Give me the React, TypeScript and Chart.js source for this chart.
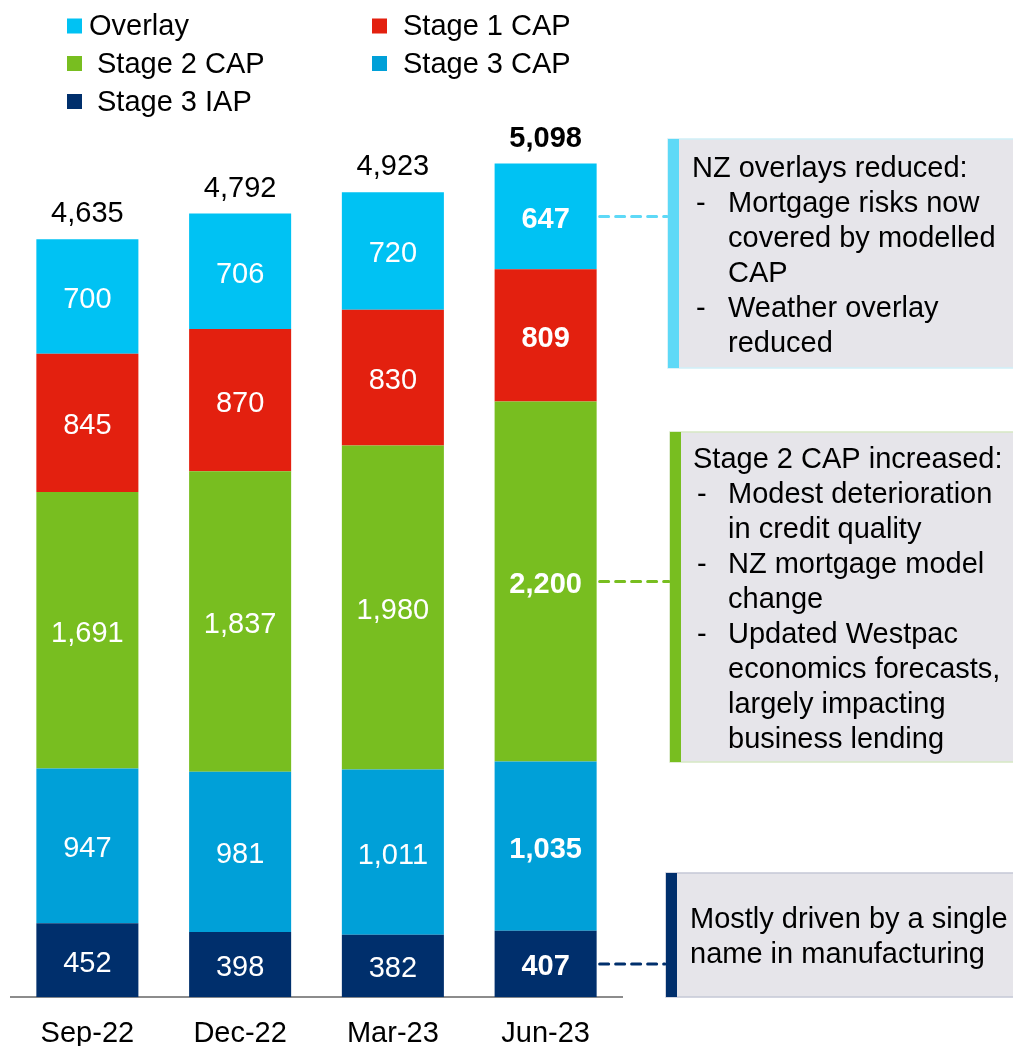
import React, { useEffect, useRef } from "react";
import { Chart, registerables } from "chart.js";

Chart.register(...registerables);

// ---------- data ----------
const categories = ["Sep-22", "Dec-22", "Mar-23", "Jun-23"];
const stage3IAP = [452, 398, 382, 407];
const stage3CAP = [947, 981, 1011, 1035];
const stage2CAP = [1691, 1837, 1980, 2200];
const stage1CAP = [845, 870, 830, 809];
const overlay = [700, 706, 720, 647];
const totals = [4635, 4792, 4923, 5098];
const seriesLabels = ["Stage 3 IAP", "Stage 3 CAP", "Stage 2 CAP", "Stage 1 CAP", "Overlay"];
const seriesData = [stage3IAP, stage3CAP, stage2CAP, stage1CAP, overlay];
const highlightCategory = "Jun-23";

const note1Lines = [
  ["", "NZ overlays reduced:"],
  ["-", "Mortgage risks now"],
  ["", "covered by modelled"],
  ["", "CAP"],
  ["-", "Weather overlay"],
  ["", "reduced"],
];
const note2Lines = [
  ["", "Stage 2 CAP increased:"],
  ["-", "Modest deterioration"],
  ["", "in credit quality"],
  ["-", "NZ mortgage model"],
  ["", "change"],
  ["-", "Updated Westpac"],
  ["", "economics forecasts,"],
  ["", "largely impacting"],
  ["", "business lending"],
];
const note3Lines = [
  ["", "Mostly driven by a single"],
  ["", "name in manufacturing"],
];

// ---------- styles / layout ----------
const FONT = "'Liberation Sans', Arial, Helvetica, sans-serif";
const seriesColors = ["#002F6C", "#00A0D8", "#78BE20", "#E3200F", "#00C2F3"];
const fmt = (v: number) => v.toLocaleString("en-US");
const TEXT_DY = 2.5;

const legendOrder = [4, 3, 2, 1, 0];
const legendPos = [
  { x: 67, y: 26, tx: 89 },
  { x: 372, y: 26, tx: 403 },
  { x: 67, y: 63.5, tx: 97 },
  { x: 372, y: 63.5, tx: 403 },
  { x: 67, y: 101.5, tx: 97 },
];

const notes = [
  { ds: 4, cat: 3, lines: note1Lines, left: 668, top: 139, bottom: 368, color: "#5ED9F7", line: "#5ED9F7", outline: "#CFEFF8", tx: 692 },
  { ds: 2, cat: 3, lines: note2Lines, left: 670, top: 432, bottom: 762, color: "#78BE20", line: "#78BE20", outline: "#D6E8C4", tx: 693 },
  { ds: 0, cat: 3, lines: note3Lines, left: 666, top: 873, bottom: 997, color: "#002F6C", line: "#002F6C", outline: "#C5C8D6", tx: 690 },
];

const labelsPlugin = {
  id: "segLabels",
  afterDatasetsDraw(chart: any) {
    const ctx = chart.ctx;
    ctx.save();
    ctx.textAlign = "center";
    ctx.textBaseline = "middle";
    chart.data.datasets.forEach((ds: any, di: number) => {
      const meta = chart.getDatasetMeta(di);
      meta.data.forEach((el: any, i: number) => {
        const bold = categories[i] === highlightCategory;
        ctx.font = `${bold ? "bold " : ""}29px ${FONT}`;
        ctx.fillStyle = "#FFFFFF";
        ctx.fillText(fmt(ds.data[i]), el.x, (el.y + el.base) / 2 + 1 + TEXT_DY);
      });
    });
    const yScale = chart.scales.y;
    const meta0 = chart.getDatasetMeta(0);
    totals.forEach((t, i) => {
      const bold = categories[i] === highlightCategory;
      ctx.font = `${bold ? "bold " : ""}29px ${FONT}`;
      ctx.fillStyle = "#000000";
      ctx.fillText(fmt(t), meta0.data[i].x, yScale.getPixelForValue(t) - 27.5 + TEXT_DY);
    });
    ctx.restore();
  },
};

const legendPlugin = {
  id: "customLegend",
  afterDraw(chart: any) {
    const ctx = chart.ctx;
    ctx.save();
    ctx.textAlign = "left";
    ctx.textBaseline = "middle";
    ctx.font = `29px ${FONT}`;
    legendOrder.forEach((di, k) => {
      const ds = chart.data.datasets[di];
      const p = legendPos[k];
      ctx.fillStyle = ds.backgroundColor;
      ctx.fillRect(p.x, p.y - 7.5, 15, 15);
      ctx.fillStyle = "#000000";
      ctx.fillText(ds.label, p.tx, p.y - 1.5 + TEXT_DY);
    });
    ctx.restore();
  },
};

const notesPlugin = {
  id: "notes",
  afterDraw(chart: any) {
    const ctx = chart.ctx;
    ctx.save();
    notes.forEach((n) => {
      const right = 1020;
      // box
      ctx.fillStyle = "#E6E5EA";
      ctx.fillRect(n.left, n.top, right - n.left, n.bottom - n.top);
      ctx.strokeStyle = n.outline;
      ctx.lineWidth = 1.5;
      ctx.strokeRect(n.left, n.top, right - n.left, n.bottom - n.top);
      ctx.fillStyle = n.color;
      ctx.fillRect(n.left, n.top, 11, n.bottom - n.top);
      // connector
      const el = chart.getDatasetMeta(n.ds).data[n.cat];
      const y = (el.y + el.base) / 2;
      ctx.strokeStyle = n.line;
      ctx.lineWidth = 3;
      ctx.lineCap = "round";
      ctx.setLineDash([9, 7]);
      ctx.beginPath();
      ctx.moveTo(el.x + el.width / 2 + 3, y);
      ctx.lineTo(n.left - 1, y);
      ctx.stroke();
      ctx.setLineDash([]);
      // text
      ctx.font = `29px ${FONT}`;
      ctx.fillStyle = "#000000";
      ctx.textBaseline = "middle";
      ctx.textAlign = "left";
      const lh = 35;
      const h = n.bottom - n.top;
      const startY = n.top + (h - lh * n.lines.length) / 2 + lh / 2 + TEXT_DY;
      const hasBullets = n.lines.some((l) => l[0] === "-");
      n.lines.forEach((ln, k) => {
        const yy = startY + k * lh;
        if (ln[0] === "-") {
          ctx.fillText("-", n.tx + 4, yy);
          ctx.fillText(ln[1], 728, yy);
        } else if (k === 0 || !hasBullets) {
          ctx.fillText(ln[1], n.tx, yy);
        } else {
          ctx.fillText(ln[1], 728, yy);
        }
      });
    });
    ctx.restore();
  },
};

export default function App() {
  const ref = useRef<HTMLCanvasElement | null>(null);

  useEffect(() => {
    if (!ref.current) return;
    const chart = new Chart(ref.current, {
      type: "bar",
      data: {
        labels: categories,
        datasets: seriesLabels.map((label, k) => ({
          label,
          data: seriesData[k],
          backgroundColor: seriesColors[k],
          borderWidth: 0,
          barPercentage: 0.668,
          categoryPercentage: 1,
        })),
      },
      options: {
        responsive: false,
        animation: false,
        devicePixelRatio: 1,
        layout: { padding: { left: 11, right: 391, top: 16, bottom: 0 } },
        plugins: {
          legend: { display: false },
          tooltip: { enabled: false },
        },
        scales: {
          x: {
            stacked: true,
            grid: { display: false, drawTicks: false },
            border: { display: true, color: "#8C8C8C", width: 2 },
            ticks: {
              color: "#000000",
              font: { family: FONT, size: 29 },
              padding: 19,
              maxRotation: 0,
              autoSkip: false,
            },
          },
          y: { stacked: true, display: false, min: 0, max: 6000 },
        },
      },
      plugins: [labelsPlugin, legendPlugin, notesPlugin],
    } as any);
    return () => chart.destroy();
  }, []);

  return (
    <div
      style={{
        position: "fixed",
        left: 0,
        top: 0,
        width: 1013,
        height: 1046,
        overflow: "hidden",
        background: "#FFFFFF",
      }}
    >
      <canvas ref={ref} width={1013} height={1070} style={{ display: "block" }} />
    </div>
  );
}
